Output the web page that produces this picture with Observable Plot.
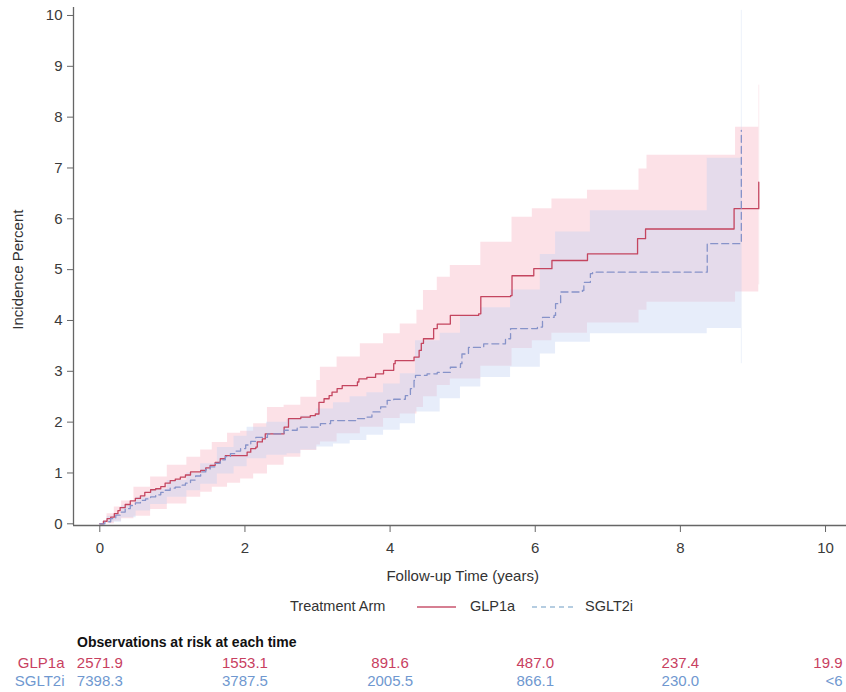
<!DOCTYPE html>
<html>
<head>
<meta charset="utf-8">
<script src="https://cdn.jsdelivr.net/npm/d3@7"></script>
<script src="https://cdn.jsdelivr.net/npm/@observablehq/plot@0.6"></script>
<style>
  html, body { margin: 0; padding: 0; background: #fff; }
  #wrap { position: relative; width: 846px; height: 692px; font-family: "Liberation Sans", Arial, sans-serif; color: #333; overflow: hidden; }
  #wrap svg { overflow: visible; }
  .abs { position: absolute; white-space: nowrap; line-height: 1; }
</style>
</head>
<body>
<div id="wrap"></div>
<script>
// Cumulative incidence (%) by treatment arm, step estimates
const glpTime = [0,0.05,0.10,0.15,0.20,0.25,0.28,0.35,0.42,0.49,0.56,0.62,0.70,0.77,0.84,0.90,0.97,1.04,1.11,1.18,1.25,1.39,1.46,1.52,1.59,1.66,1.73,2.03,2.08,2.15,2.17,2.24,2.28,2.54,2.60,2.77,2.90,2.97,3.02,3.09,3.16,3.20,3.27,3.34,3.55,3.57,3.68,3.80,3.91,4.05,4.07,4.33,4.40,4.43,4.46,4.60,4.65,4.83,5.22,5.25,5.66,5.68,5.98,6.23,6.72,7.41,7.52,8.74,9.08];
const glpPct  = [0,0.05,0.10,0.13,0.20,0.26,0.32,0.38,0.45,0.50,0.55,0.62,0.67,0.69,0.73,0.80,0.85,0.88,0.92,0.96,1.02,1.05,1.10,1.15,1.21,1.28,1.34,1.41,1.48,1.51,1.61,1.67,1.77,1.90,2.07,2.10,2.13,2.16,2.39,2.46,2.52,2.59,2.66,2.72,2.79,2.85,2.88,2.95,3.02,3.15,3.21,3.28,3.41,3.55,3.64,3.84,3.93,4.10,4.13,4.47,4.49,4.88,5.02,5.18,5.31,5.61,5.80,6.20,6.72];

const sgltTime = [0,0.07,0.15,0.22,0.28,0.35,0.42,0.49,0.56,0.63,0.70,0.77,0.84,0.90,0.97,1.04,1.11,1.18,1.25,1.32,1.39,1.46,1.52,1.59,1.66,1.73,1.80,1.87,1.94,2.01,2.08,2.15,2.31,2.54,2.72,3.04,3.18,3.55,3.68,3.75,3.87,3.96,4.05,4.21,4.28,4.33,4.35,4.51,4.65,4.83,4.97,4.99,5.08,5.29,5.59,5.66,6.03,6.10,6.26,6.28,6.35,6.65,6.67,6.76,6.79,8.37,8.84];
const sgltPct  = [0,0.04,0.10,0.17,0.23,0.30,0.36,0.41,0.46,0.49,0.53,0.57,0.62,0.66,0.70,0.72,0.76,0.80,0.86,0.94,1.02,1.07,1.12,1.19,1.26,1.32,1.38,1.43,1.48,1.55,1.62,1.70,1.77,1.84,1.90,1.97,2.03,2.07,2.10,2.20,2.30,2.43,2.45,2.52,2.66,2.82,2.92,2.95,2.98,3.08,3.15,3.34,3.47,3.54,3.64,3.84,3.87,4.06,4.10,4.33,4.56,4.59,4.75,4.92,4.95,5.51,7.74];

// 95% confidence limits
const glpBandTime = [0,0.10,0.20,0.30,0.47,0.70,0.93,1.20,1.39,1.55,1.76,1.94,2.12,2.31,2.54,2.77,2.99,3.04,3.27,3.59,3.91,4.14,4.37,4.46,4.65,4.83,5.25,5.68,5.96,6.23,6.72,7.43,7.54,8.76,9.08];
const glpLower    = [0,0.00,0.05,0.10,0.15,0.28,0.39,0.52,0.62,0.72,0.80,0.88,0.98,1.15,1.31,1.44,1.55,1.61,1.77,1.90,2.07,2.16,2.29,2.50,2.72,2.85,3.10,3.45,3.60,3.75,3.95,4.20,4.36,4.56,4.70];
const glpUpper    = [0,0.20,0.33,0.45,0.72,0.92,1.15,1.31,1.45,1.60,1.78,1.82,1.97,2.29,2.33,2.49,2.82,3.08,3.28,3.54,3.74,3.93,4.20,4.59,4.85,5.08,5.54,6.03,6.20,6.39,6.56,6.98,7.25,7.80,8.63];

const sgltBandTime = [0,0.10,0.30,0.50,0.70,0.93,1.20,1.39,1.62,1.85,2.03,2.30,2.58,2.77,2.99,3.22,3.45,3.68,3.91,4.14,4.35,4.69,4.97,5.25,5.66,6.07,6.28,6.76,8.37,8.84];
const sgltLower    = [0,0.03,0.12,0.25,0.38,0.52,0.65,0.78,0.98,1.12,1.28,1.35,1.38,1.45,1.51,1.57,1.64,1.74,1.84,1.97,2.20,2.46,2.69,2.88,3.08,3.34,3.57,3.74,3.84,3.15];
const sgltUpper    = [0,0.15,0.35,0.52,0.68,0.85,1.00,1.18,1.50,1.72,1.90,2.00,2.05,2.12,2.26,2.38,2.50,2.58,2.75,2.95,3.60,3.75,4.10,4.25,4.60,5.30,5.74,6.16,7.19,10.10];

// Axis ticks
const xTicks = [0, 2, 4, 6, 8, 10];
const yTicks = [0, 1, 2, 3, 4, 5, 6, 7, 8, 9, 10];

// Number at risk table
const arms = ["GLP1a", "SGLT2i"];
const riskTimes = [0, 2, 4, 6, 8, 10];
const glpRisk = ["2571.9", "1553.1", "891.6", "487.0", "237.4", "19.9"];
const sgltRisk = ["7398.3", "3787.5", "2005.5", "866.1", "230.0", "<6"];

// Styling
const font = "'Liberation Sans', Arial, sans-serif";
const redLine = "#c4455f";
const blueLine = "#8793c9";
const pinkFill = "#f7b7c6";
const blueFill = "#c3d3f3";
const redText = "#c8405f";
const blueText = "#6f98d0";
const xDomain = [-0.3624, 10.289];
const yDomain = [-0.0334, 10.157];

const glp = glpTime.map((t, i) => ({t, v: glpPct[i]}));
const sglt = sgltTime.map((t, i) => ({t, v: sgltPct[i]}));
const glpBand = glpBandTime.map((t, i) => ({t, lo: glpLower[i], hi: glpUpper[i]}));
const sgltBand = sgltBandTime.map((t, i) => ({t, lo: sgltLower[i], hi: sgltUpper[i]}));

const W = 846;
const mainH = 590;

const main = Plot.plot({
  width: W,
  height: mainH,
  marginTop: 7,
  marginLeft: 73,
  marginRight: 0,
  marginBottom: mainH - 525,
  style: {fontFamily: font, fontSize: "15px", color: "#3a3a3a", background: "transparent", overflow: "visible"},
  x: {domain: xDomain},
  y: {domain: yDomain},
  marks: [
    Plot.areaY(glpBand, {x: "t", y1: "lo", y2: "hi", curve: "step-after", fill: pinkFill, fillOpacity: 0.42}),
    Plot.areaY(sgltBand, {x: "t", y1: "lo", y2: "hi", curve: "step-after", fill: blueFill, fillOpacity: 0.4}),
    Plot.ruleX(glpBand.slice(-1), {x: "t", y1: "lo", y2: "hi", stroke: pinkFill, strokeOpacity: 0.25, strokeWidth: 1}),
    Plot.ruleX(sgltBand.slice(-1), {x: "t", y1: "lo", y2: "hi", stroke: blueFill, strokeOpacity: 0.3, strokeWidth: 1}),
    Plot.line(glp, {x: "t", y: "v", curve: "step-after", stroke: redLine, strokeWidth: 1.3}),
    Plot.line(sglt, {x: "t", y: "v", curve: "step-after", stroke: blueLine, strokeWidth: 1.3, strokeDasharray: "7,4"}),
    Plot.ruleX([xDomain[0]], {stroke: "#666", strokeWidth: 1.3}),
    Plot.ruleY([yDomain[0]], {stroke: "#666", strokeWidth: 1.3}),
    Plot.axisX(xTicks, {tickSize: 7, tickPadding: 10, tickFormat: d => String(d), label: null, stroke: "#666"}),
    Plot.axisY(yTicks, {tickSize: 6, tickPadding: 5, tickFormat: d => String(d), label: null, stroke: "#666"}),
    Plot.text(["Follow-up Time (years)"], {x: 5, frameAnchor: "bottom", dy: 51, lineAnchor: "middle", textAnchor: "middle", fontSize: 15, fill: "#333"}),
    Plot.text(["Incidence Percent"], {y: 5, frameAnchor: "left", dx: -55, rotate: -90, textAnchor: "middle", lineAnchor: "middle", fontSize: 15, fill: "#333"})
  ]
});

const wrap = document.getElementById("wrap");
main.style.position = "absolute";
main.style.left = "0px";
main.style.top = "0px";
wrap.appendChild(main);

// Legend
function addText(txt, left, top, size, color, weight) {
  const d = document.createElement("div");
  d.className = "abs";
  d.textContent = txt;
  d.style.left = left + "px";
  d.style.top = top + "px";
  d.style.fontSize = size + "px";
  d.style.color = color;
  if (weight) d.style.fontWeight = weight;
  wrap.appendChild(d);
  return d;
}
function addSwatch(left, top, width, color, dash) {
  const ns = "http://www.w3.org/2000/svg";
  const s = document.createElementNS(ns, "svg");
  s.setAttribute("width", width);
  s.setAttribute("height", 4);
  s.style.position = "absolute";
  s.style.left = left + "px";
  s.style.top = (top - 2) + "px";
  const l = document.createElementNS(ns, "line");
  l.setAttribute("x1", 0); l.setAttribute("x2", width);
  l.setAttribute("y1", 2); l.setAttribute("y2", 2);
  l.setAttribute("stroke", color);
  l.setAttribute("stroke-width", 1.3);
  if (dash) l.setAttribute("stroke-dasharray", dash);
  s.appendChild(l);
  wrap.appendChild(s);
}
const legendY = 607;
addText("Treatment Arm", 290, legendY - 8, 14.5, "#333");
addSwatch(417, legendY, 39, "#c8546e");
addText("GLP1a", 470, legendY - 8, 14.5, "#333");
addSwatch(532, legendY, 43, "#9dbdd8", "5,4");
addText("SGLT2i", 585, legendY - 8, 14.5, "#333");

// Risk table
addText("Observations at risk at each time", 77, 635, 14, "#111", "bold");

const riskRows = riskTimes.flatMap((t, i) => [
  {t, arm: arms[0], n: glpRisk[i]},
  {t, arm: arms[1], n: sgltRisk[i]}
]);
const armColor = {GLP1a: redText, SGLT2i: blueText};

const risk = Plot.plot({
  width: W,
  height: 42,
  marginTop: 0,
  marginBottom: 0,
  marginLeft: 73,
  marginRight: 0,
  style: {fontFamily: font, fontSize: "15px", background: "transparent", overflow: "visible"},
  x: {domain: xDomain, axis: null},
  y: {type: "point", domain: arms, range: [13, 31], padding: 0, axis: null},
  marks: [
    Plot.text(riskRows.filter(d => d.t < 10), {x: "t", y: "arm", text: "n", fill: d => armColor[d.arm], fontSize: 15}),
    Plot.text(riskRows.filter(d => d.t === 10), {x: "t", y: "arm", text: "n", fill: d => armColor[d.arm], fontSize: 15, textAnchor: "end", dx: 17}),
    Plot.text(arms, {y: d => d, text: d => d, frameAnchor: "left", textAnchor: "end", dx: -9, fill: d => armColor[d], fontSize: 15})
  ]
});
risk.style.position = "absolute";
risk.style.left = "0px";
risk.style.top = "650px";
wrap.appendChild(risk);
</script>
</body>
</html>
